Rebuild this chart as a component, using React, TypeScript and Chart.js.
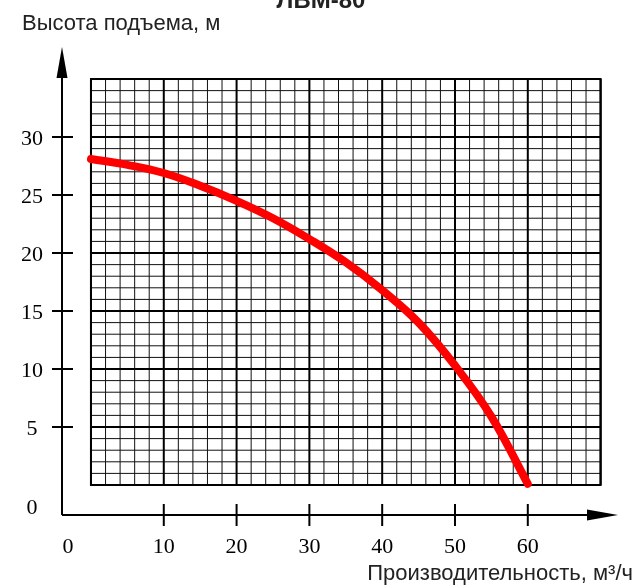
import React, { useEffect, useRef } from "react";
import { Chart, registerables } from "chart.js";

Chart.register(...registerables);

// ---- data ----
const flowValues = [0, 5, 10, 15, 20, 25, 30, 35, 40, 45, 50, 55, 60];
const headValues = [28.1, 27.6, 26.9, 25.8, 24.5, 23.0, 21.2, 19.2, 16.8, 14.0, 10.3, 5.9, 0.1];
const xTickValues = [10, 20, 30, 40, 50, 60];
const yTickValues = [5, 10, 15, 20, 25, 30];
const originLabel = "0";
const gridXMax = 70;
const gridYMax = 35;
const xMinorStep = 2;
const xMajorStep = 10;
const yMinorStep = 1;
const yMajorStep = 5;
const chartTitle = "ЛВМ-80";
const yAxisTitle = "Высота подъема, м";
const xAxisTitle = "Производительность, м³/ч";

const W = 636;
const H = 585;

const paperPlugin = {
  id: "paper",
  beforeDatasetsDraw(chart: any) {
    const { ctx, chartArea } = chart;
    const xs = chart.scales.x;
    const ys = chart.scales.y;
    const gx0 = xs.getPixelForValue(0);
    const gx1 = xs.getPixelForValue(gridXMax);
    const gy0 = ys.getPixelForValue(0);
    const gy1 = ys.getPixelForValue(gridYMax);
    ctx.save();
    // minor grid
    ctx.strokeStyle = "#111";
    ctx.lineWidth = 1;
    ctx.beginPath();
    for (let v = 0; v <= gridXMax; v += xMinorStep) {
      if (v % xMajorStep === 0) continue;
      const p = xs.getPixelForValue(v);
      ctx.moveTo(p, gy0);
      ctx.lineTo(p, gy1);
    }
    for (let v = 0; v <= gridYMax; v += yMinorStep) {
      if (v % yMajorStep === 0) continue;
      const p = ys.getPixelForValue(v);
      ctx.moveTo(gx0, p);
      ctx.lineTo(gx1, p);
    }
    ctx.stroke();
    // major grid
    ctx.strokeStyle = "#000";
    ctx.lineWidth = 2;
    ctx.beginPath();
    for (let v = 0; v <= gridXMax; v += xMajorStep) {
      const p = xs.getPixelForValue(v);
      ctx.moveTo(p, gy0);
      ctx.lineTo(p, gy1);
    }
    for (let v = 0; v <= gridYMax; v += yMajorStep) {
      const p = ys.getPixelForValue(v);
      ctx.moveTo(gx0, p);
      ctx.lineTo(gx1, p);
    }
    ctx.stroke();
    ctx.strokeRect(gx0, gy1, gx1 - gx0, gy0 - gy1);

    // axes
    const ax = chartArea.left;
    const ay = chartArea.bottom;
    const arrowLen = 31;
    const arrowHalf = 5.5;
    ctx.lineWidth = 2;
    ctx.beginPath();
    ctx.moveTo(ax, ay);
    ctx.lineTo(ax, chartArea.top + arrowLen);
    ctx.moveTo(ax, ay);
    ctx.lineTo(chartArea.right - arrowLen, ay);
    ctx.stroke();
    ctx.fillStyle = "#000";
    ctx.beginPath();
    ctx.moveTo(ax, chartArea.top);
    ctx.lineTo(ax - arrowHalf, chartArea.top + arrowLen);
    ctx.lineTo(ax + arrowHalf, chartArea.top + arrowLen);
    ctx.closePath();
    ctx.fill();
    ctx.beginPath();
    ctx.moveTo(chartArea.right, ay);
    ctx.lineTo(chartArea.right - arrowLen, ay - arrowHalf);
    ctx.lineTo(chartArea.right - arrowLen, ay + arrowHalf);
    ctx.closePath();
    ctx.fill();

    // ticks
    ctx.beginPath();
    for (const v of xTickValues) {
      const p = xs.getPixelForValue(v);
      ctx.moveTo(p, ay - 11);
      ctx.lineTo(p, ay + 11);
    }
    for (const v of yTickValues) {
      const p = ys.getPixelForValue(v);
      ctx.moveTo(ax - 10, p);
      ctx.lineTo(ax + 11, p);
    }
    ctx.stroke();

    // tick labels
    const numSize = 22;
    ctx.font = `${numSize}px "Liberation Serif", "DejaVu Serif", serif`;
    ctx.textAlign = "center";
    ctx.textBaseline = "alphabetic";
    const lift = Math.round(numSize * 0.33);
    for (const v of xTickValues) {
      const p = xs.getPixelForValue(v);
      ctx.fillText(String(v), p, ay + 31 + lift);
    }
    ctx.fillText(originLabel, ax + 6, ay + 31 + lift);
    for (const v of yTickValues) {
      const p = ys.getPixelForValue(v);
      ctx.fillText(String(v), ax - 30, p + 1 + lift);
    }
    ctx.fillText(originLabel, ax - 30, ay - 8 + lift);

    // titles
    ctx.fillStyle = "#222";
    ctx.font = `22px "Liberation Sans", Arial, sans-serif`;
    ctx.textAlign = "left";
    ctx.fillText(yAxisTitle, 22, 30);
    ctx.textAlign = "right";
    ctx.fillText(xAxisTitle, 633, 580);
    ctx.font = `bold 24px "Liberation Sans", Arial, sans-serif`;
    ctx.textAlign = "center";
    ctx.fillText(chartTitle, 321, 8);
    ctx.restore();
  },
};

export default function App() {
  const ref = useRef<HTMLCanvasElement | null>(null);
  useEffect(() => {
    if (!ref.current) return;
    const chart = new Chart(ref.current, {
      type: "line",
      data: {
        datasets: [
          {
            data: flowValues.map((x, i) => ({ x, y: headValues[i] })),
            borderColor: "#ff0000",
            borderWidth: 8,
            borderCapStyle: "round",
            borderJoinStyle: "round",
            pointRadius: 0,
            fill: false,
            tension: 0.4,
          },
        ],
      },
      options: {
        animation: false,
        responsive: false,
        layout: { padding: { left: 62, right: 18, top: 47, bottom: 70 } },
        plugins: { legend: { display: false }, tooltip: { enabled: false }, title: { display: false } },
        scales: {
          x: { type: "linear", min: -3.98, max: 72.39, display: false },
          y: { type: "linear", min: -2.586, max: 37.76, display: false },
        },
      },
      plugins: [paperPlugin],
    } as any);
    return () => chart.destroy();
  }, []);
  return (
    <div style={{ position: "fixed", left: 0, top: 0, width: W, height: H, background: "#fff" }}>
      <canvas ref={ref} width={W} height={H} style={{ width: W, height: H, display: "block" }} />
    </div>
  );
}
